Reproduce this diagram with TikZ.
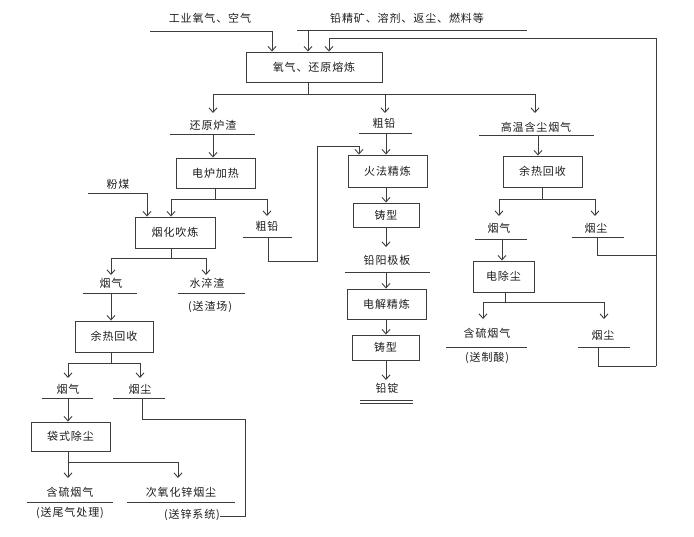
\documentclass[tikz,border=0pt]{standalone}
\usepackage{fontspec}
\newfontfamily\cjk[LetterSpace=8]{Noto Sans CJK SC}
\usetikzlibrary{arrows.meta}
\definecolor{lc}{HTML}{3C3C3C}
\definecolor{tc}{HTML}{1E1E1E}
\begin{document}
\begin{tikzpicture}[x=1pt,y=-1pt,
  every node/.style={font=\cjk\fontsize{11}{13}\selectfont, text=tc},
  box/.style={draw=lc, line width=0.9pt, inner sep=0pt},
  lbl/.style={inner sep=0pt},
  wire/.style={draw=lc, line width=0.9pt},
  arr/.style={wire, -{Straight Barb[length=4.5pt,width=8pt,line width=0.9pt]}},
]
\path[use as bounding box, fill=white] (0,0) rectangle (694,536);

% ---------- main box and inputs ----------
\node[box, minimum width=136pt, minimum height=30pt] (M) at (314,67) {氧气、还原熔炼};
\node[lbl] (in1) at (210,18) {工业氧气、空气};
\coordinate (in1a) at (150,31); \coordinate (in1b) at (272,31);
\draw[arr] (in1a) -- (in1b) -- (M.north -| in1b);
\node[lbl] (in2) at (407,18) {铅精矿、溶剂、返尘、燃料等};
\coordinate (in2a) at (297,30); \coordinate (in2b) at (527,30); \coordinate (in2c) at (308,30);
\draw[wire] (in2a) -- (in2b);
\draw[arr] (in2c) -- (M.north -| in2c);
\coordinate (rt) at (656,38); \coordinate (rb) at (656,366); \coordinate (ri) at (329,38);
\draw[arr] (rb) -- (rt) -- (ri) -- (M.north -| ri);

% ---------- first split ----------
\coordinate (b1) at (308,94); \coordinate (b1l) at (213,94);
\coordinate (b1m) at (385,94); \coordinate (b1r) at (535,94);
\draw[wire] (M.south -| b1) -- (b1);
\draw[wire] (b1l) -- (b1r);

% ---------- left branch ----------
\node[lbl] (rz) at (213,125) {还原炉渣};
\coordinate (rzT) at (213,113);
\draw[arr] (b1l) -- (rzT);
\coordinate (rzA) at (170,134); \coordinate (rzB) at (255,134); \coordinate (rzC) at (213,134);
\draw[wire] (rzA) -- (rzB);
\node[box, minimum width=79pt, minimum height=30pt] (E) at (215.5,173) {电炉加热};
\draw[arr] (rzC) -- (E.north -| rzC);

\coordinate (b2) at (215,199); \coordinate (b2l) at (171,199); \coordinate (b2r) at (267,199);
\draw[wire] (E.south -| b2) -- (b2);
\draw[wire] (b2l) -- (b2r);
\node[box, minimum width=80pt, minimum height=31pt] (Y) at (175,232.5) {烟化吹炼};
\draw[arr] (b2l) -- (Y.north -| b2l);
\coordinate (cq1T) at (267,216);
\draw[arr] (b2r) -- (cq1T);
\node[lbl] (cq1) at (267,226) {粗铅};
\coordinate (cq1A) at (243,237); \coordinate (cq1B) at (292,237); \coordinate (cq1C) at (268,237);
\draw[wire] (cq1A) -- (cq1B);

\node[lbl] (fm) at (118,184) {粉煤};
\coordinate (fmA) at (88,193); \coordinate (fmB) at (147,193);
\draw[arr] (fmA) -- (fmB) -- (Y.north -| fmB);

\coordinate (b3) at (171,258); \coordinate (b3l) at (111,258); \coordinate (b3r) at (206,258);
\draw[wire] (Y.south -| b3) -- (b3);
\draw[wire] (b3l) -- (b3r);
\coordinate (yq1T) at (111,275); \coordinate (sczT) at (206,275);
\draw[arr] (b3l) -- (yq1T);
\draw[arr] (b3r) -- (sczT);
\node[lbl] (yq1) at (111,283) {烟气};
\coordinate (yq1A) at (83,293); \coordinate (yq1B) at (137,293); \coordinate (yq1C) at (111,293);
\draw[wire] (yq1A) -- (yq1B);
\node[lbl] (scz) at (207,283) {水淬渣};
\coordinate (sczA) at (178,293); \coordinate (sczB) at (245,293);
\draw[wire] (sczA) -- (sczB);
\node[lbl] (sczN) at (210,307) {(送渣场)};

\node[box, minimum width=78pt, minimum height=31pt] (H1) at (114,336.5) {余热回收};
\draw[arr] (yq1C) -- (H1.north -| yq1C);
\coordinate (b4) at (111,363); \coordinate (b4l) at (68,363); \coordinate (b4r) at (140,363);
\draw[wire] (H1.south -| b4) -- (b4);
\draw[wire] (b4l) -- (b4r);
\coordinate (yq2T) at (68,378); \coordinate (yc2T) at (140,378);
\draw[arr] (b4l) -- (yq2T);
\draw[arr] (b4r) -- (yc2T);
\node[lbl] (yq2) at (68,389) {烟气};
\coordinate (yq2A) at (42,398); \coordinate (yq2B) at (93,398); \coordinate (yq2C) at (68,398);
\draw[wire] (yq2A) -- (yq2B);
\node[lbl] (yc2) at (140,389) {烟尘};
\coordinate (yc2A) at (113,398); \coordinate (yc2B) at (165,398); \coordinate (yc2C) at (142,398);
\draw[wire] (yc2A) -- (yc2B);

\node[box, minimum width=79pt, minimum height=29pt] (B) at (70.5,436.5) {袋式除尘};
\draw[arr] (yq2C) -- (B.north -| yq2C);
\coordinate (b5) at (68,462); \coordinate (b5r) at (178,462);
\coordinate (hl1T) at (68,478); \coordinate (zn1T) at (178,478);
\draw[arr] (B.south -| b5) -- (hl1T);
\draw[arr] (b5) -- (b5r) -- (zn1T);
\node[lbl] (hl1) at (70,492) {含硫烟气};
\coordinate (hl1A) at (27,502); \coordinate (hl1B) at (113,502);
\draw[wire] (hl1A) -- (hl1B);
\node[lbl] (hl1N) at (70,513) {(送尾气处理)};
\node[lbl] (zn1) at (181,492) {次氧化锌烟尘};
\coordinate (zn1A) at (127,502); \coordinate (zn1B) at (235,502);
\draw[wire] (zn1A) -- (zn1B);
\node[lbl] (zn1N) at (192,515) {(送锌系统)};
\coordinate (lpA) at (142,419); \coordinate (lpB) at (245,419); \coordinate (lpC) at (245,516);
\draw[wire] (yc2C) -- (lpA) -- (lpB) -- (lpC) -- (zn1N.east |- lpC);

% ---------- middle branch ----------
\node[lbl] (cq2) at (384,123) {粗铅};
\coordinate (cq2T) at (385,113);
\draw[arr] (b1m) -- (cq2T);
\coordinate (cq2A) at (359,133); \coordinate (cq2B) at (412,133); \coordinate (cq2C) at (386,133);
\draw[wire] (cq2A) -- (cq2B);
\node[box, minimum width=79pt, minimum height=32pt] (F) at (387.5,171) {火法精炼};
\draw[arr] (cq2C) -- (F.north -| cq2C);
\coordinate (lp1) at (268,261); \coordinate (lp2) at (317,261);
\coordinate (lp3) at (317,146); \coordinate (lp4) at (359,146);
\draw[arr] (cq1C) -- (lp1) -- (lp2) -- (lp3) -- (lp4) -- (F.north -| lp4);
\node[box, minimum width=66pt, minimum height=24pt] (Z1) at (386,215) {铸型};
\draw[arr] (F.south -| cq2C) -- (Z1.north -| cq2C);
\coordinate (yjT) at (386,247);
\draw[arr] (Z1.south -| cq2C) -- (yjT);
\node[lbl] (yj) at (387,260) {铅阳极板};
\coordinate (yjA) at (345,272); \coordinate (yjB) at (430,272); \coordinate (yjC) at (386,272);
\draw[wire] (yjA) -- (yjB);
\node[box, minimum width=79pt, minimum height=30pt] (D) at (386.5,304) {电解精炼};
\draw[arr] (yjC) -- (D.north -| yjC);
\node[box, minimum width=67pt, minimum height=25pt] (Z2) at (385.5,347.5) {铸型};
\draw[arr] (D.south -| yjC) -- (Z2.north -| yjC);
\coordinate (qdT) at (386,380);
\draw[arr] (Z2.south -| yjC) -- (qdT);
\node[lbl] (qd) at (387,388) {铅锭};
\coordinate (qdA) at (360,400); \coordinate (qdB) at (413,400);
\coordinate (qdA2) at (360,403); \coordinate (qdB2) at (413,403);
\draw[wire] (qdA) -- (qdB);
\draw[wire] (qdA2) -- (qdB2);

% ---------- right branch ----------
\node[lbl] (gw) at (536,127) {高温含尘烟气};
\coordinate (gwT) at (535,113);
\draw[arr] (b1r) -- (gwT);
\coordinate (gwA) at (479,135); \coordinate (gwB) at (594,135); \coordinate (gwC) at (538,135);
\draw[wire] (gwA) -- (gwB);
\node[box, minimum width=79pt, minimum height=31pt] (H2) at (542.5,171.5) {余热回收};
\draw[arr] (gwC) -- (H2.north -| gwC);
\coordinate (b6) at (542,199); \coordinate (b6l) at (499,199); \coordinate (b6r) at (595,199);
\draw[wire] (H2.south -| b6) -- (b6);
\draw[wire] (b6l) -- (b6r);
\coordinate (yq3T) at (499,216); \coordinate (yc3T) at (595,216);
\draw[arr] (b6l) -- (yq3T);
\draw[arr] (b6r) -- (yc3T);
\node[lbl] (yq3) at (499,228) {烟气};
\coordinate (yq3A) at (475,239); \coordinate (yq3B) at (527,239); \coordinate (yq3C) at (502,239);
\draw[wire] (yq3A) -- (yq3B);
\node[lbl] (yc3) at (596,228) {烟尘};
\coordinate (yc3A) at (572,237); \coordinate (yc3B) at (624,237); \coordinate (yc3C) at (597,237);
\draw[wire] (yc3A) -- (yc3B);
\coordinate (yc3D) at (597,255);
\draw[wire] (yc3C) -- (yc3D) -- (rt |- yc3D);

\node[box, minimum width=61pt, minimum height=31pt] (C) at (503.5,276.5) {电除尘};
\draw[arr] (yq3C) -- (C.north -| yq3C);
\coordinate (b7) at (505,302); \coordinate (b7l) at (483,302); \coordinate (b7r) at (604,302);
\draw[wire] (C.south -| b7) -- (b7);
\draw[wire] (b7l) -- (b7r);
\coordinate (hl2T) at (483,319); \coordinate (yc4T) at (604,319);
\draw[arr] (b7l) -- (hl2T);
\draw[arr] (b7r) -- (yc4T);
\node[lbl] (hl2) at (487,333) {含硫烟气};
\coordinate (hl2A) at (446,347); \coordinate (hl2B) at (527,347);
\draw[wire] (hl2A) -- (hl2B);
\node[lbl] (hl2N) at (487,358) {(送制酸)};
\node[lbl] (yc4) at (603,335) {烟尘};
\coordinate (yc4A) at (578,347); \coordinate (yc4B) at (630,347); \coordinate (yc4C) at (598,347);
\draw[wire] (yc4A) -- (yc4B);
\coordinate (yc4D) at (598,366);
\draw[wire] (yc4C) -- (yc4D) -- (rb);
\end{tikzpicture}
\end{document}
